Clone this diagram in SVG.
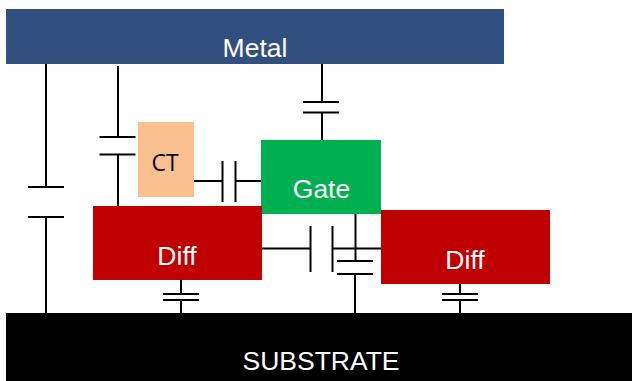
<svg xmlns="http://www.w3.org/2000/svg" width="632" height="381" viewBox="0 0 632 381">
<style>
.w{stroke:#000;stroke-width:2;fill:none}
.t{font-family:"Liberation Sans",Arial,sans-serif;font-size:26.500px;fill:#fff;text-anchor:middle}
</style>
<rect width="632" height="381" fill="#fff"/>
<g id="metal"><rect x="6" y="9" width="498" height="55" fill="#31507f"/><text class="t" x="255" y="57">Metal</text></g>
<g id="substrate"><rect x="6" y="313" width="626" height="68" fill="#000"/><text class="t" x="321" y="370">SUBSTRATE</text></g>
<g id="ct"><rect x="138" y="122" width="56" height="75" fill="#fac090"/><text x="165" y="171" font-family="'Open Sans',sans-serif" font-size="23" fill="#000" text-anchor="middle">CT</text></g>
<g id="gate"><rect x="261" y="140" width="120" height="74" fill="#00b050"/><text class="t" x="321.500" y="198">Gate</text></g>
<g id="diff1"><rect x="93" y="206" width="169" height="74" fill="#c00000"/><text class="t" x="177" y="265">Diff</text></g>
<g id="diff2"><rect x="381" y="210" width="169" height="74" fill="#c00000"/><text class="t" x="465" y="269">Diff</text></g>
<g id="connectors" class="w">
<path d="M46 64V187M28 187H64M28 217H64M46 217V313"/>
<path d="M118 66V137M99.500 137H135.500M99.500 154.500H135.500M118 154.500V206"/>
<path d="M194 181H222.500M222.500 161V202M235.500 161V202M235.500 181H261"/>
<path d="M322 64V102M303 102H339M303 112.500H339M322 112.500V140"/>
<path d="M262 248.500H310.500M310.500 226V272M332.500 226V272M332.500 248.500H381"/>
<path d="M355.500 214V261M337 261H373M337 274H373M355 274V313"/>
<path d="M181 280V294M163 294H199M163 300H199M181 300V313"/>
<path d="M460 284V294M442 294H478M442 300H478M460 300V313"/>
</g>
</svg>
